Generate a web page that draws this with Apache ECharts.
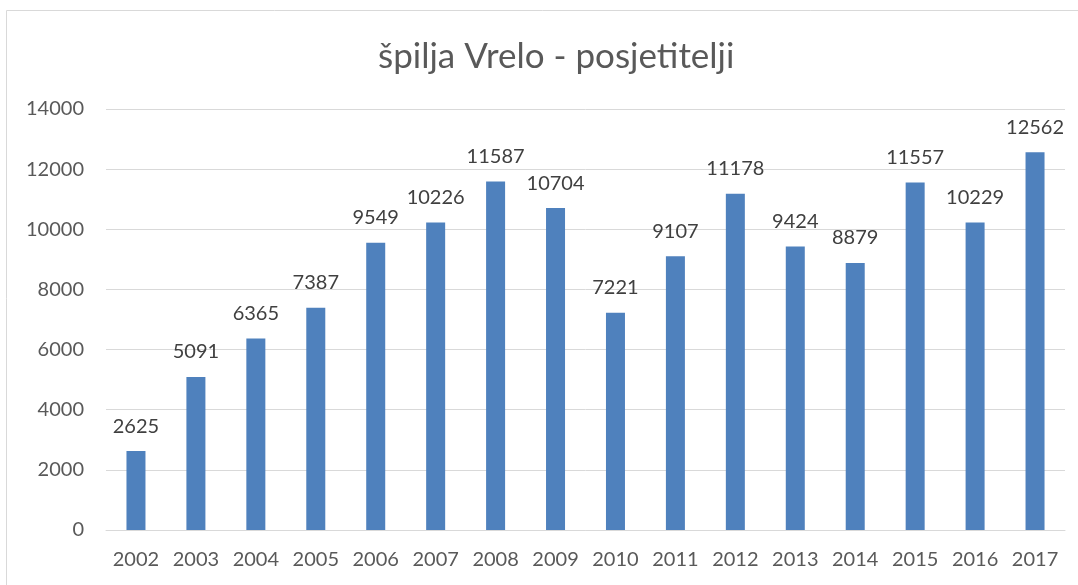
<!DOCTYPE html>
<html>
<head>
<meta charset="utf-8">
<script src="https://cdn.jsdelivr.net/npm/echarts@6/dist/echarts.min.js"></script>
<style>
html, body { margin: 0; padding: 0; background: #fff; }
#container { width: 1078px; height: 585px; }
</style>
</head>
<body>
<div id="container"></div>
<script>
var years = ['2002', '2003', '2004', '2005', '2006', '2007', '2008', '2009', '2010', '2011', '2012', '2013', '2014', '2015', '2016', '2017'];
var visitors = [2625, 5091, 6365, 7387, 9549, 10226, 11587, 10704, 7221, 9107, 11178, 9424, 8879, 11557, 10229, 12562];

var myChart = echarts.init(document.getElementById('container'));
var font = 'Lato, "Open Sans", sans-serif';
var option = {
    animation: false,
    color: ['#4f81bd'],
    title: {
        text: 'špilja Vrelo - posjetitelji',
        left: 373,
        top: 34,
        textStyle: { fontFamily: font, fontSize: 35, fontWeight: 'normal', color: '#595959' }
    },
    graphic: [{
        type: 'rect',
        shape: { x: 6.5, y: 10.5, width: 1100, height: 600 },
        style: { fill: 'none', stroke: '#d9d9d9', lineWidth: 1 },
        silent: true
    }],
    grid: {
        left: 106,
        right: 13,
        top: 109,
        bottom: 55
    },
    xAxis: {
        type: 'category',
        data: years,
        axisTick: { show: false },
        axisLine: { lineStyle: { color: '#d9d9d9' } },
        axisLabel: { interval: 0, fontFamily: font, fontSize: 20, color: '#595959', margin: 20 }
    },
    yAxis: {
        type: 'value',
        min: 0,
        max: 14000,
        interval: 2000,
        axisLine: { show: false },
        axisTick: { show: false },
        splitLine: { lineStyle: { color: '#d9d9d9' } },
        axisLabel: {
            fontFamily: font, fontSize: 20, color: '#595959', margin: 22,
            formatter: function (v) { return String(v); }
        }
    },
    series: [{
        type: 'bar',
        data: visitors,
        barWidth: 19,
        label: {
            show: true,
            position: 'top',
            distance: 15,
            fontFamily: font,
            fontSize: 20,
            color: '#404040'
        }
    }]
};
myChart.setOption(option);
</script>
</body>
</html>
